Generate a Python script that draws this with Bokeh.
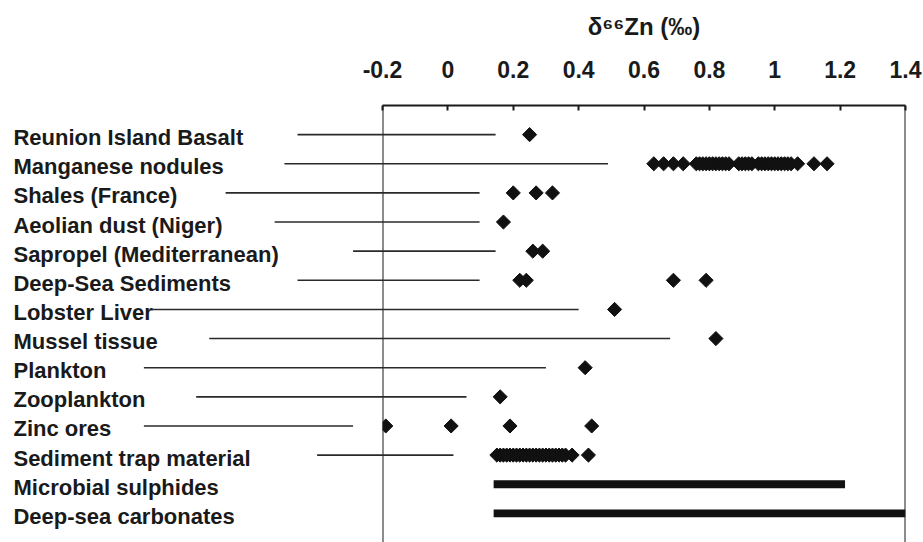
import numpy as np
from bokeh.plotting import figure
from bokeh.models import Range1d, FactorRange, FixedTicker, Span
from bokeh.core.properties import value
from bokeh.embed import file_html
from bokeh.resources import INLINE

# ---------------- data ----------------
categories = [
    "Reunion Island Basalt", "Manganese nodules", "Shales (France)",
    "Aeolian dust (Niger)", "Sapropel (Mediterranean)", "Deep-Sea Sediments",
    "Lobster Liver", "Mussel tissue", "Plankton", "Zooplankton", "Zinc ores",
    "Sediment trap material", "Microbial sulphides", "Deep-sea carbonates",
]

reunion_basalt = [0.25]
manganese_nodules = [0.63, 0.66, 0.69, 0.72, 0.76, 0.77, 0.78, 0.79, 0.80, 0.81,
                     0.82, 0.83, 0.84, 0.85, 0.86, 0.89, 0.90, 0.91, 0.92, 0.93,
                     0.95, 0.96, 0.97, 0.98, 0.99, 1.00, 1.01, 1.02, 1.03, 1.04,
                     1.05, 1.07, 1.12, 1.16]
shales_france = [0.20, 0.27, 0.32]
aeolian_dust = [0.17]
sapropel = [0.26, 0.29]
deep_sea_sediments = [0.22, 0.24, 0.69, 0.79]
lobster_liver = [0.51]
mussel_tissue = [0.82]
plankton = [0.42]
zooplankton = [0.16]
zinc_ores = [-0.19, 0.01, 0.19, 0.44]
sediment_trap = [0.15, 0.16, 0.17, 0.18, 0.19, 0.20, 0.21, 0.22, 0.23, 0.24,
                 0.25, 0.26, 0.27, 0.28, 0.29, 0.30, 0.31, 0.32, 0.33, 0.34,
                 0.35, 0.36, 0.38, 0.43]

range_categories = ["Microbial sulphides", "Deep-sea carbonates"]
range_low = [0.14, 0.14]
range_high = [1.215, 1.40]

leader_categories = categories[:12]
leader_start = [-0.46, -0.50, -0.68, -0.53, -0.29, -0.46, -0.91, -0.73, -0.93, -0.77, -0.93, -0.40]
leader_end = [0.146, 0.49, 0.097, 0.097, 0.146, 0.097, 0.40, 0.68, 0.30, 0.057, -0.29, 0.017]

tick_values = [-0.2, 0, 0.2, 0.4, 0.6, 0.8, 1, 1.2, 1.4]
tick_labels = ["-0.2", "0", "0.2", "0.4", "0.6", "0.8", "1", "1.2", "1.4"]
x_title = "δ⁶⁶Zn (‰)"

point_series = [reunion_basalt, manganese_nodules, shales_france, aeolian_dust,
                sapropel, deep_sea_sediments, lobster_liver, mussel_tissue,
                plankton, zooplankton, zinc_ores, sediment_trap]

px, py = [], []
for cat, vals in zip(categories, point_series):
    px.extend(vals)
    py.extend([cat] * len(vals))

# ---------------- figure ----------------
FONT = value("Liberation Sans")
INK = "#1a1a1a"

p = figure(width=923, height=542, output_backend="svg", toolbar_location=None,
           x_range=Range1d(-0.2, 1.4),
           y_range=FactorRange(factors=list(reversed(categories))),
           x_axis_location="above", y_axis_location=None,
           min_border_left=382, min_border_right=18, min_border_top=105,
           min_border_bottom=0)
p.y_range.range_padding = 0.5
p.y_range.range_padding_units = "absolute"
p.outline_line_color = None
p.grid.visible = False
p.background_fill_color = "white"
p.border_fill_color = "white"

ax = p.xaxis[0]
ax.ticker = FixedTicker(ticks=tick_values)
ax.major_label_overrides = dict(zip(tick_values, tick_labels))
ax.major_tick_in = 5
ax.major_tick_out = 0
ax.minor_tick_in = 0
ax.minor_tick_out = 0
ax.axis_line_width = 2
ax.axis_line_color = INK
ax.major_tick_line_width = 2
ax.major_tick_line_color = INK
ax.major_label_standoff = 28
ax.major_label_text_font = "Liberation Sans"
ax.major_label_text_font_style = "bold"
ax.major_label_text_font_size = "23px"
ax.major_label_text_color = INK
ax.axis_label = x_title
ax.axis_label_text_font = "Liberation Sans"
ax.axis_label_text_font_style = "bold"
ax.axis_label_text_font_size = "24px"
ax.axis_label_text_color = INK
ax.axis_label_standoff = 18

for loc in (-0.2, 1.4):
    p.add_layout(Span(location=loc, dimension="height", line_width=2, line_color=INK))

# category labels (left of frame)
lab = p.text(x=[-1.329] * len(categories), y=categories, text=categories,
             text_font=FONT, text_font_style="bold", text_font_size="22px",
             text_baseline="middle", text_align="left", y_offset=3, text_color=INK)
lab.level = "overlay"

# leader lines
seg = p.segment(x0=leader_start, y0=leader_categories, x1=leader_end, y1=leader_categories,
                line_width=1.6, line_color="#2a2a2a")
seg.level = "overlay"

# ranges as thick bars
p.hbar(y=range_categories, left=range_low, right=range_high, height=0.27,
       fill_color="#111111", line_color=None)

# diamonds
p.scatter(x=px, y=py, marker="square", size=10, angle=np.pi / 4,
          fill_color="#111111", line_color="#111111")

open("out.html", "w").write(file_html(p, INLINE))
